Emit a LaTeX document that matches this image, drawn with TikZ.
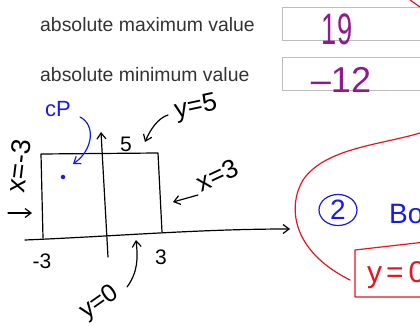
\documentclass[tikz,border=0pt]{standalone}
\usepackage{fontspec}
\setmainfont{Liberation Sans}
\usetikzlibrary{arrows.meta}
\usetikzlibrary{shapes.geometric}
\definecolor{inkpurple}{HTML}{8E1A8E}
\definecolor{inkblue}{HTML}{1A1AE6}
\definecolor{inkred}{HTML}{E6141E}
\definecolor{boxgray}{HTML}{BDBDBD}

\begin{document}
\begin{tikzpicture}[x=1pt,y=-1pt,
    typed/.style={text=black!80, font=\fontsize{19.4}{22}\selectfont, anchor=base west, inner sep=0pt},
    hand/.style={inner sep=0pt, font=\fontsize{#1}{#1}\selectfont},
    pen/.style={line width=1.2pt, line cap=round, line join=round},
    tip/.style={-{Straight Barb[length=6pt,width=9pt]}}]
    \useasboundingbox (0,0) rectangle (420,326);
    % answer boxes
    \node[typed] (maxlabel) at (40,32) {absolute maximum value};
    \node[typed] (minlabel) at (40,82) {absolute minimum value};
    \draw[boxgray, line width=1pt] (282,8) rectangle (430,41);
    \draw[boxgray, line width=1pt] (282,58) rectangle (430,91);
    \node[hand=44, text=inkpurple, xscale=0.62] (maxval) at (337,29) {19};
    \node[hand=36, text=inkpurple] (minval) at (341,80) {\textendash12};
    \draw[pen, inkred] (410,0) -- (420,7);
    % region
    \coordinate (tl) at (41,154);
    \coordinate (tr) at (158,153);
    \coordinate (br) at (162,232);
    \coordinate (bl) at (43,238);
    \draw[pen] (bl) -- (tl) -- (tr) -- (br);
    \coordinate (xs) at (25,240);
    \coordinate (xe) at (290,229);
    \draw[pen, tip] (xs) .. controls (120,236) and (200,229) .. (xe);
    \coordinate (ys) at (108,257);
    \coordinate (ye) at (101,132);
    \draw[pen, tip] (ys) -- (ye);
    \node[hand=21] (lmin) at (42,261) {-3};
    \node[hand=21] (rmax) at (161,257) {3};
    \node[hand=21] (topfive) at (126,144) {5};
    % sides
    \node[hand=26, rotate=12] (ytop) at (196,108) {y=5};
    \node[hand=26, rotate=25] (xright) at (217,175) {x=3};
    \node[hand=27, rotate=83] (xleft) at (19,166) {x=-3};
    \node[hand=25, rotate=35] (ybot) at (100,303) {y=0};
    \coordinate (ytopend) at (145,142);
    \coordinate (xrightend) at (173,202);
    \coordinate (xleftend) at (32,213);
    \coordinate (ybotend) at (136,240);
    \draw[pen, tip] (168,115) .. controls (158,118) and (150,130) .. (ytopend);
    \draw[pen, tip] (198,195) -- (xrightend);
    \draw[pen, tip] (8,213) -- (xleftend);
    \draw[pen, tip] (127,287) .. controls (138,272) and (138,258) .. (ybotend);
    % critical point
    \node[hand=22, text=inkblue] (cp) at (58,109) {cP};
    \node[circle, fill=inkblue, inner sep=1.6pt] (cpdot) at (63,177) {};
    \coordinate (cpend) at (73,164);
    \draw[pen, inkblue, tip] (80,117) .. controls (96,125) and (93,150) .. (cpend);
    % boundary
    \draw[pen, inkred] (420,133) .. controls (380,145) and (325,148) .. (303,180) .. controls (288,205) and (290,250) .. (350,280);
    \node[ellipse, draw=inkblue, pen, text=inkblue, font=\fontsize{28}{28}\selectfont, minimum width=38, minimum height=31, inner sep=0pt] (steptwo) at (338,210) {2};
    \node[hand=28, text=inkblue, anchor=base west] (bo) at (389,223) {Bo};
    \draw[pen, inkred] (355,250) -- (425,242) -- (425,297) -- (355,297) -- cycle;
    \node[hand=30, text=inkred, anchor=base west] (ans) at (367,282) {y\hspace{4pt}=\hspace{5pt}0};
\end{tikzpicture}
\end{document}
